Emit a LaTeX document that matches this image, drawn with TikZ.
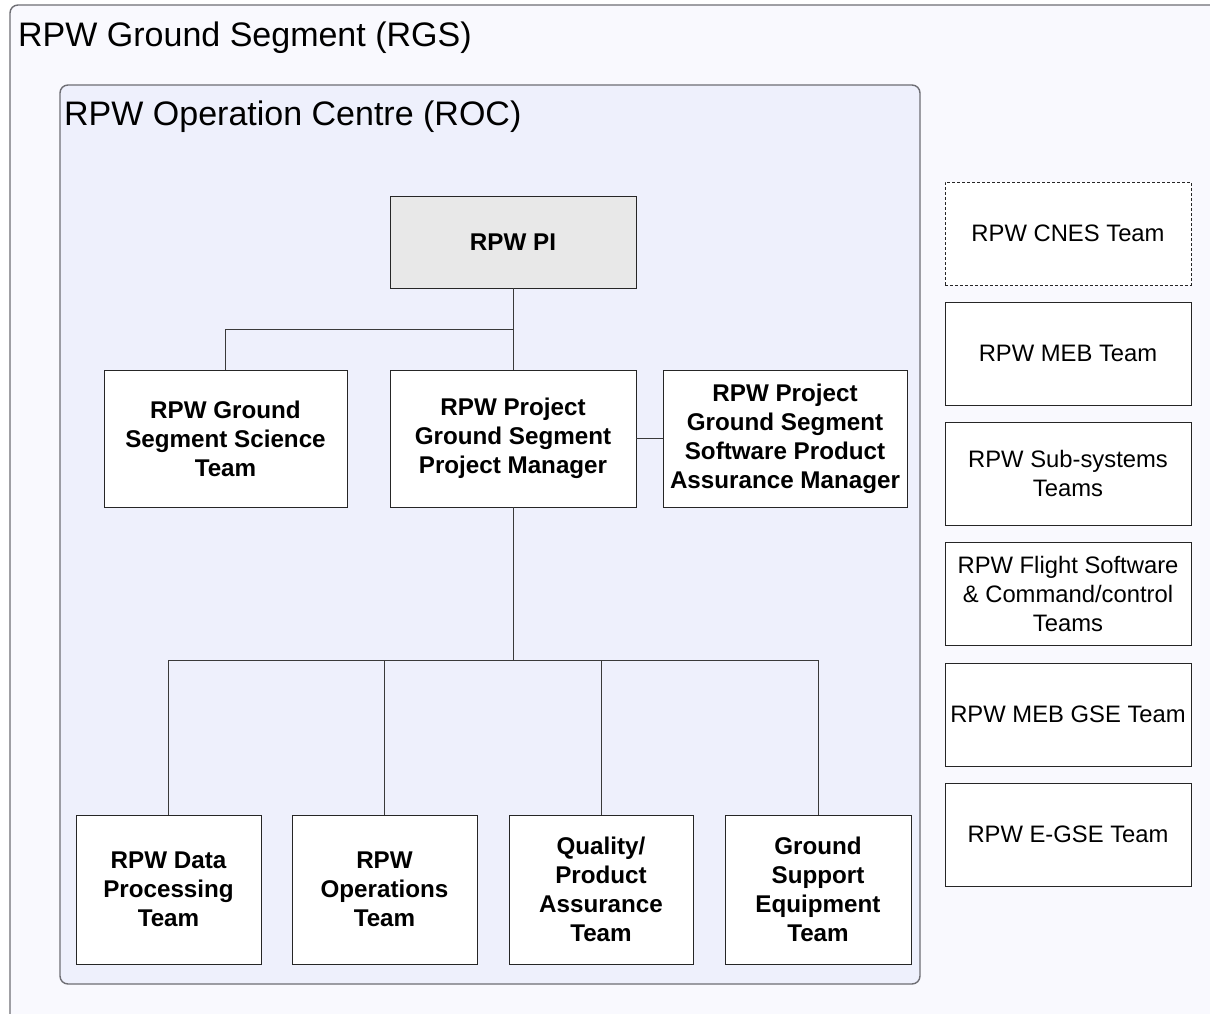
\documentclass[tikz,border=0pt]{standalone}
\usepackage{fontspec}
\setmainfont{Liberation Sans}
\definecolor{rgsfill}{HTML}{F9F9FE}
\definecolor{rocfill}{HTML}{EEF0FC}
\definecolor{framegray}{HTML}{6E6E74}
\definecolor{pifill}{HTML}{E8E8E8}
\definecolor{linkgray}{HTML}{3A3A3A}
\tikzset{
  frame/.style={draw=framegray, line width=1.4pt, rounded corners=8pt},
  orgbox/.style={draw=black!85, line width=0.9pt, fill=white, align=center,
    inner sep=2pt, font=\fontsize{24.2}{29}\selectfont\bfseries},
  extbox/.style={draw=black!85, line width=0.9pt, fill=white, align=center,
    inner sep=2pt, minimum width=246pt, minimum height=103pt,
    font=\fontsize{23.8}{29}\selectfont},
  link/.style={draw=linkgray, line width=0.9pt},
  title/.style={anchor=base west, inner sep=0pt, font=\fontsize{34}{39}\selectfont}
}
\begin{document}
\begin{tikzpicture}[x=1pt,y=-1pt]
\useasboundingbox (0,0) rectangle (1210,1014);
\clip (0,0) rectangle (1210,1014);
\fill[white] (0,0) rectangle (1210,1014);

% RPW Ground Segment frame
\draw[frame, fill=rgsfill] (10,5) rectangle (1240,1040);
\node[title] (rgs) at (18,47) {RPW Ground Segment (RGS)};

% RPW Operation Centre frame
\draw[frame, fill=rocfill] (60,85) rectangle (920,984);
\node[title] (roc) at (64,126) {RPW Operation Centre (ROC)};

% ROC organisation
\node[orgbox, fill=pifill, minimum width=246pt, minimum height=92pt] (pi) at (513,242) {RPW PI};

\node[orgbox, minimum width=243pt, minimum height=137pt] (sci) at (225.5,438.5) {RPW Ground\\Segment Science\\Team};
\node[orgbox, minimum width=246pt, minimum height=137pt] (pm) at (513,438.5) {RPW Project\\Ground Segment\\Project Manager};
\node[orgbox, minimum width=244pt, minimum height=137pt] (spa) at (785,438.5) {RPW Project\\Ground Segment\\Software Product\\Assurance Manager};

\node[orgbox, minimum width=185pt, minimum height=149pt] (dp) at (168.5,889.5) {RPW Data\\Processing\\Team};
\node[orgbox, minimum width=185pt, minimum height=149pt] (ops) at (384.5,889.5) {RPW\\Operations\\Team};
\node[orgbox, minimum width=184pt, minimum height=149pt] (qa) at (601,889.5) {Quality/\\Product\\Assurance\\Team};
\node[orgbox, minimum width=186pt, minimum height=149pt] (gse) at (818,889.5) {Ground\\Support\\Equipment\\Team};

% Connectors
\coordinate (j1) at (513,329);
\coordinate (j2) at (513,660);
\draw[link] (pi.south) -- (pm.north);
\draw[link] (j1) -| (sci.north);
\draw[link] (pm.east) -- (spa.west);
\draw[link] (pm.south) -- (j2);
\draw[link] (dp.north) -- (dp.north |- j2) -- (gse.north |- j2) -- (gse.north);
\draw[link] (ops.north |- j2) -- (ops.north);
\draw[link] (qa.north |- j2) -- (qa.north);

% Teams outside the ROC
\node[extbox, dashed, dash pattern=on 3pt off 2pt] (cnes) at (1068,233.5) {RPW CNES Team};
\node[extbox] (meb) at (1068,353.5) {RPW MEB Team};
\node[extbox] (sub) at (1068,473.5) {RPW Sub-systems\\Teams};
\node[extbox] (fsw) at (1068,593.5) {RPW Flight Software\\\& Command/control\\Teams};
\node[extbox] (mebgse) at (1068,714.5) {RPW MEB GSE Team};
\node[extbox] (egse) at (1068,834.5) {RPW E-GSE Team};
\end{tikzpicture}
\end{document}
